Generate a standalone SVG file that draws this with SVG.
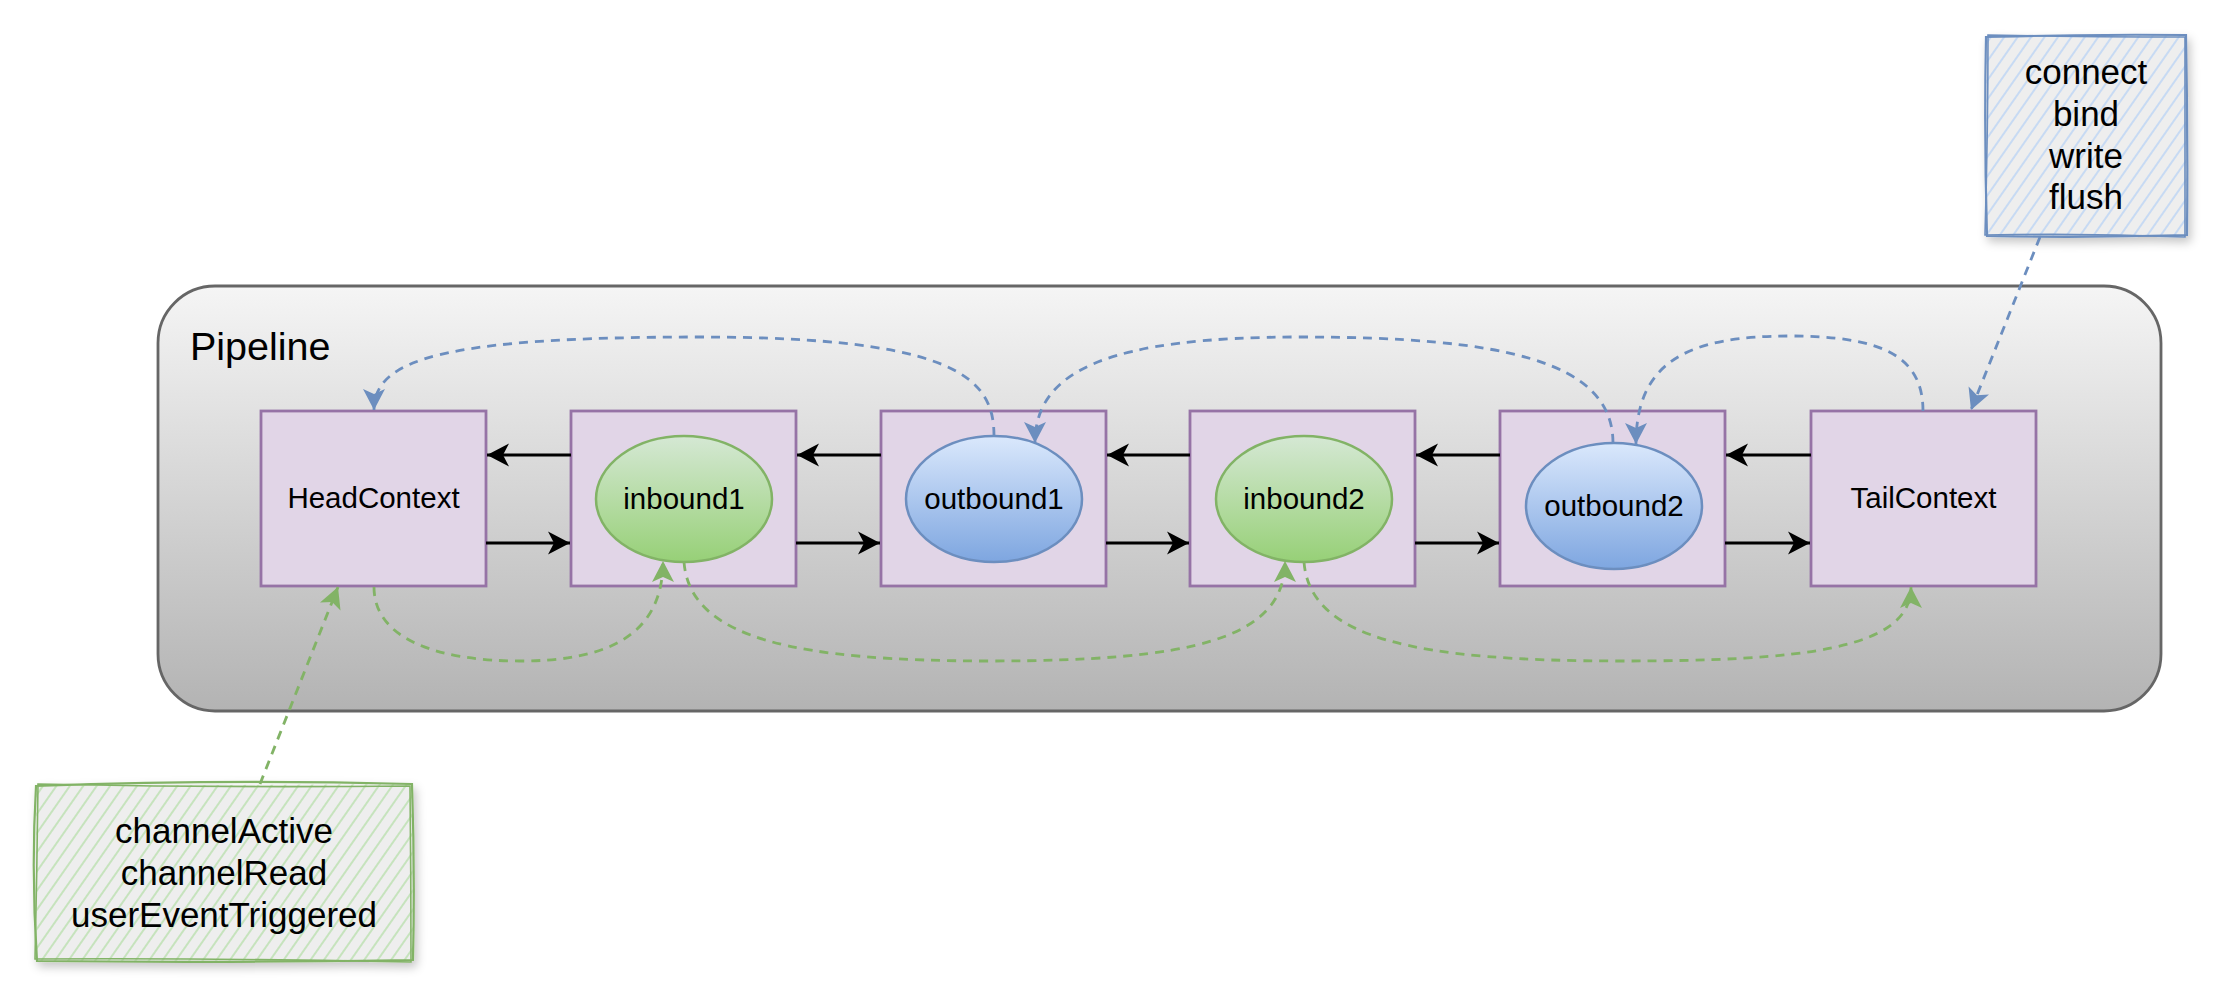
<svg xmlns="http://www.w3.org/2000/svg" width="2228" height="1005" viewBox="0 0 2228 1005">
<defs>
<style>
.box{fill:#e1d5e7;stroke:#9673a6;stroke-width:2.8}
.lbl{font-family:"Liberation Sans",Arial,sans-serif;font-size:29.5px;fill:#000;text-anchor:middle}
.note{font-family:"Liberation Sans",Arial,sans-serif;font-size:35px;fill:#000;text-anchor:middle}
.blk{fill:none;stroke:#000;stroke-width:2.8}
.bd{fill:none;stroke:#6c8ebf;stroke-width:2.8;stroke-dasharray:9 7}
.gd{fill:none;stroke:#82b366;stroke-width:2.8;stroke-dasharray:9 7}
</style>
<linearGradient id="gPipe" x1="0" y1="0" x2="0" y2="1"><stop offset="0" stop-color="#f5f5f5"/><stop offset="1" stop-color="#b3b3b3"/></linearGradient>
<linearGradient id="gGreen" x1="0" y1="0" x2="0" y2="1"><stop offset="0" stop-color="#d5e8d4"/><stop offset="1" stop-color="#97d077"/></linearGradient>
<linearGradient id="gBlue" x1="0" y1="0" x2="0" y2="1"><stop offset="0" stop-color="#dae8fc"/><stop offset="1" stop-color="#7ea6e0"/></linearGradient>
<pattern id="hBlue" width="11" height="11" patternUnits="userSpaceOnUse" patternTransform="rotate(35)"><rect width="11" height="11" fill="#eeeeee"/><line x1="2" y1="0" x2="2" y2="11" stroke="#c3d8f4" stroke-width="1.8"/></pattern>
<pattern id="hGreen" width="11" height="11" patternUnits="userSpaceOnUse" patternTransform="rotate(35)"><rect width="11" height="11" fill="#eeeeee"/><line x1="2" y1="0" x2="2" y2="11" stroke="#c2e2b8" stroke-width="1.8"/></pattern>
<filter id="sh" x="-10%" y="-10%" width="130%" height="130%"><feDropShadow dx="3" dy="5" stdDeviation="5" flood-color="#000" flood-opacity="0.22"/></filter>
<marker id="aK" viewBox="-23 -12 24 24" markerWidth="24" markerHeight="24" refX="0" refY="0" orient="auto" markerUnits="userSpaceOnUse"><path d="M0,0 L-22,-11.5 L-16,0 L-22,11.5 Z" fill="#000"/></marker>
<marker id="aB" viewBox="-23 -12 24 24" markerWidth="24" markerHeight="24" refX="0" refY="0" orient="auto" markerUnits="userSpaceOnUse"><path d="M0,0 L-21,-11 L-16,0 L-21,11 Z" fill="#6c8ebf"/></marker>
<marker id="aG" viewBox="-23 -12 24 24" markerWidth="24" markerHeight="24" refX="0" refY="0" orient="auto" markerUnits="userSpaceOnUse"><path d="M0,0 L-21,-11 L-16,0 L-21,11 Z" fill="#82b366"/></marker>
</defs>
<rect width="2228" height="1005" fill="#ffffff"/>

<g id="pipeline">
<rect x="158" y="286" width="2003" height="425" rx="57" ry="57" fill="url(#gPipe)" stroke="#666666" stroke-width="2.8"/>
<text x="190" y="360" font-family="'Liberation Sans',Arial,sans-serif" font-size="39.5" fill="#000">Pipeline</text>
</g>

<g id="headContext"><rect class="box" x="261" y="411" width="225" height="175"/><text class="lbl" x="373.5" y="508">HeadContext</text></g>
<g id="inbound1Ctx"><rect class="box" x="571" y="411" width="225" height="175"/></g>
<g id="outbound1Ctx"><rect class="box" x="881" y="411" width="225" height="175"/></g>
<g id="inbound2Ctx"><rect class="box" x="1190" y="411" width="225" height="175"/></g>
<g id="outbound2Ctx"><rect class="box" x="1500" y="411" width="225" height="175"/></g>
<g id="tailContext"><rect class="box" x="1811" y="411" width="225" height="175"/><text class="lbl" x="1923.5" y="508">TailContext</text></g>

<g id="inbound1"><ellipse cx="684" cy="499" rx="88" ry="63" fill="url(#gGreen)" stroke="#82b366" stroke-width="2.5"/><text class="lbl" x="684" y="509">inbound1</text></g>
<g id="outbound1"><ellipse cx="994" cy="499" rx="88" ry="63" fill="url(#gBlue)" stroke="#6c8ebf" stroke-width="2.5"/><text class="lbl" x="994" y="509">outbound1</text></g>
<g id="inbound2"><ellipse cx="1304" cy="499" rx="88" ry="63" fill="url(#gGreen)" stroke="#82b366" stroke-width="2.5"/><text class="lbl" x="1304" y="509">inbound2</text></g>
<g id="outbound2"><ellipse cx="1614" cy="506" rx="88" ry="63" fill="url(#gBlue)" stroke="#6c8ebf" stroke-width="2.5"/><text class="lbl" x="1614" y="516">outbound2</text></g>

<g id="outboundNote" filter="url(#sh)">
<path d="M1986,37 L2186,35 L2187,235 L1987,236 Z" fill="url(#hBlue)"/>
<path d="M1986,37 Q2086,34 2186,35 Q2188,135 2187,235 Q2087,238 1987,236 Q1984,136 1986,37 Z" fill="none" stroke="#6c8ebf" stroke-width="2.2"/>
<path d="M1988,35 Q2090,37 2185,37 Q2185,140 2185,237 Q2085,233 1985,235 Q1988,130 1988,35 Z" fill="none" stroke="#6c8ebf" stroke-width="1.6"/>
</g>
<g id="outboundNoteText">
<text class="note" x="2086" y="84">connect</text>
<text class="note" x="2086" y="126">bind</text>
<text class="note" x="2086" y="168">write</text>
<text class="note" x="2086" y="209">flush</text>
</g>

<g id="inboundNote" filter="url(#sh)">
<path d="M36,786 L412,784 L413,960 L37,961 Z" fill="url(#hGreen)"/>
<path d="M36,786 Q224,779 412,784 Q415,872 413,960 Q225,963 37,961 Q31,873 36,786 Z" fill="none" stroke="#82b366" stroke-width="2.2"/>
<path d="M38,784 Q226,788 410,786 Q411,875 411,962 Q224,958 35,959 Q37,870 38,784 Z" fill="none" stroke="#82b366" stroke-width="1.6"/>
</g>
<g id="inboundNoteText">
<text class="note" x="224" y="843">channelActive</text>
<text class="note" x="224" y="885">channelRead</text>
<text class="note" x="224" y="927">userEventTriggered</text>
</g>

<g id="connectors">
<path class="blk" d="M571,455 L487,455" marker-end="url(#aK)"/>
<path class="blk" d="M881,455 L797,455" marker-end="url(#aK)"/>
<path class="blk" d="M1190,455 L1107,455" marker-end="url(#aK)"/>
<path class="blk" d="M1500,455 L1416,455" marker-end="url(#aK)"/>
<path class="blk" d="M1811,455 L1726,455" marker-end="url(#aK)"/>
<path class="blk" d="M486,543 L570,543" marker-end="url(#aK)"/>
<path class="blk" d="M796,543 L880,543" marker-end="url(#aK)"/>
<path class="blk" d="M1106,543 L1189,543" marker-end="url(#aK)"/>
<path class="blk" d="M1415,543 L1499,543" marker-end="url(#aK)"/>
<path class="blk" d="M1725,543 L1810,543" marker-end="url(#aK)"/>

<path class="bd" d="M2040,237 L1971,410" marker-end="url(#aB)"/>
<path class="bd" d="M1923,411 C1923,355 1880,336 1790,336 C1690,336 1636,360 1636,444" marker-end="url(#aB)"/>
<path class="bd" d="M1613,443 C1613,360 1500,337 1300,337 C1110,337 1035,370 1035,443" marker-end="url(#aB)"/>
<path class="bd" d="M994,436 C994,380 960,337 700,337 C440,337 374,360 374,410" marker-end="url(#aB)"/>

<path class="gd" d="M260,784 L338,587" marker-end="url(#aG)"/>
<path class="gd" d="M374,587 C374,640 440,661 520,661 C600,661 663,640 663,561" marker-end="url(#aG)"/>
<path class="gd" d="M684,562 C690,640 800,661 990,661 C1190,661 1285,640 1285,561" marker-end="url(#aG)"/>
<path class="gd" d="M1304,562 C1310,640 1420,661 1620,661 C1800,661 1911,650 1911,587" marker-end="url(#aG)"/>
</g>
</svg>
